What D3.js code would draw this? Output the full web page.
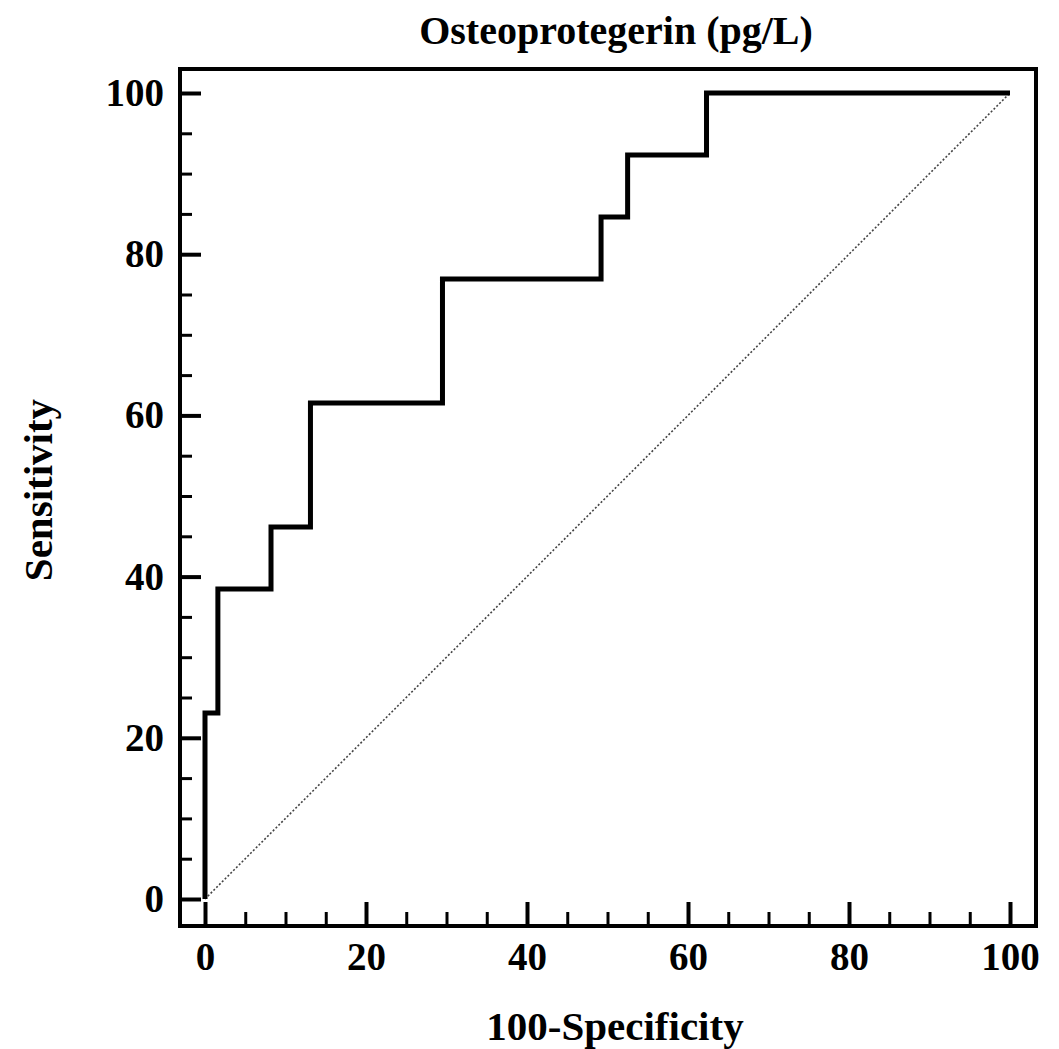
<!DOCTYPE html>
<html>
<head>
<meta charset="utf-8">
<script src="https://cdn.jsdelivr.net/npm/d3@7"></script>
<style>
  html, body { margin: 0; padding: 0; background: #fff; }
  svg { display: block; }
  text { font-family: "Liberation Serif", "Times New Roman", serif; font-weight: bold; fill: #000; }
</style>
</head>
<body>
<svg id="chart" width="1059" height="1049"></svg>
<script>
// ---- data ----
const title = "Osteoprotegerin (pg/L)";
const xLabel = "100-Specificity";
const yLabel = "Sensitivity";
// ROC step points (100-Specificity, Sensitivity)
const fpr = [0, 0, 1.6, 1.6, 8.2, 8.2, 13.1, 13.1, 29.5, 29.5, 49.2, 49.2, 52.5, 52.5, 62.3, 62.3, 100];
const tpr = [0, 23.08, 23.08, 38.46, 38.46, 46.15, 46.15, 61.54, 61.54, 76.92, 76.92, 84.62, 84.62, 92.31, 92.31, 100, 100];
const refX = [0, 100];
const refY = [0, 100];
const majorTicks = [0, 20, 40, 60, 80, 100];
const minorTicks = [5, 10, 15, 25, 30, 35, 45, 50, 55, 65, 70, 75, 85, 90, 95];

// ---- layout ----
const svg = d3.select("#chart");
const frame = { left: 180, right: 1036, top: 69, bottom: 926 };
const x = d3.scaleLinear().domain([0, 100]).range([205, 1010]);
const y = d3.scaleLinear().domain([0, 100]).range([899, 93]);

// minor ticks
svg.append("g")
  .attr("transform", `translate(${frame.left},0)`)
  .call(d3.axisLeft(y).tickValues(minorTicks).tickSize(-12).tickFormat(""))
  .call(g => g.select(".domain").remove())
  .call(g => g.selectAll("line").attr("stroke", "#000").attr("stroke-width", 3));
svg.append("g")
  .attr("transform", `translate(0,${frame.bottom})`)
  .call(d3.axisBottom(x).tickValues(minorTicks).tickSize(-14).tickFormat(""))
  .call(g => g.select(".domain").remove())
  .call(g => g.selectAll("line").attr("stroke", "#000").attr("stroke-width", 3));

// major ticks with labels
svg.append("g")
  .attr("transform", `translate(${frame.left},0)`)
  .call(d3.axisLeft(y).tickValues(majorTicks).tickSize(-21).tickPadding(16).tickFormat(d3.format("d")))
  .call(g => g.select(".domain").remove())
  .call(g => g.selectAll("line").attr("stroke", "#000").attr("stroke-width", 4))
  .call(g => g.selectAll("text").attr("font-size", 39).attr("font-family", "Liberation Serif").attr("font-weight", "bold").attr("fill", "#000"));
svg.append("g")
  .attr("transform", `translate(0,${frame.bottom})`)
  .call(d3.axisBottom(x).tickValues(majorTicks).tickSize(-24).tickPadding(16).tickFormat(d3.format("d")))
  .call(g => g.select(".domain").remove())
  .call(g => g.selectAll("line").attr("stroke", "#000").attr("stroke-width", 4))
  .call(g => g.selectAll("text").attr("font-size", 39).attr("font-family", "Liberation Serif").attr("font-weight", "bold").attr("fill", "#000"));

// reference diagonal
svg.append("path")
  .datum(refX.map((v, i) => [v, refY[i]]))
  .attr("fill", "none")
  .attr("stroke", "#444")
  .attr("stroke-width", 1.6)
  .attr("stroke-dasharray", "2,2")
  .attr("d", d3.line().x(d => x(d[0])).y(d => y(d[1])));

// ROC curve
svg.append("path")
  .datum(fpr.map((v, i) => [v, tpr[i]]))
  .attr("fill", "none")
  .attr("stroke", "#000")
  .attr("stroke-width", 5)
  .attr("stroke-linejoin", "miter")
  .attr("d", d3.line().x(d => x(d[0])).y(d => y(d[1])));

// frame
svg.append("rect")
  .attr("x", frame.left).attr("y", frame.top)
  .attr("width", frame.right - frame.left).attr("height", frame.bottom - frame.top)
  .attr("fill", "none").attr("stroke", "#000").attr("stroke-width", 4);

// titles
svg.append("text")
  .attr("x", 616).attr("y", 44)
  .attr("text-anchor", "middle").attr("font-size", 40)
  .text(title);
svg.append("text")
  .attr("x", 615).attr("y", 1040)
  .attr("text-anchor", "middle").attr("font-size", 41)
  .text(xLabel);
svg.append("text")
  .attr("transform", "translate(52,490) rotate(-90)")
  .attr("text-anchor", "middle").attr("font-size", 41)
  .text(yLabel);
</script>
</body>
</html>
